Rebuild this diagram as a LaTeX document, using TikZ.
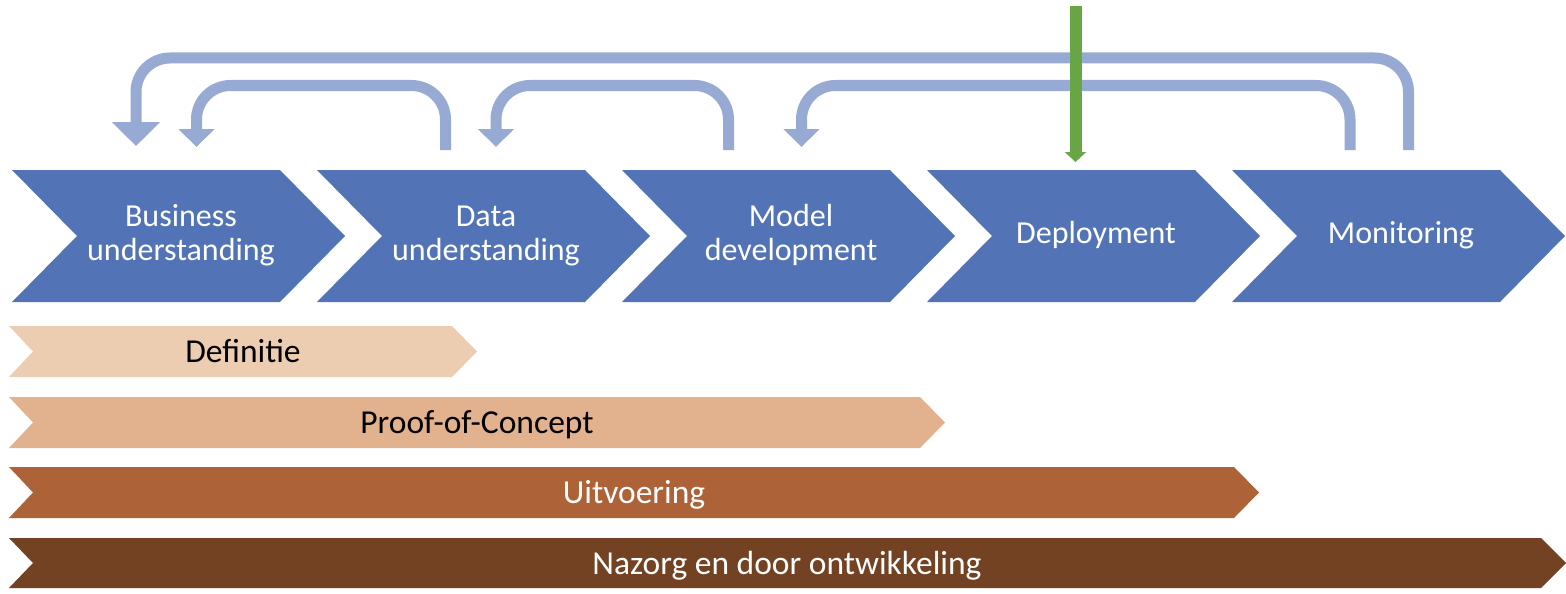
\documentclass[tikz,border=0pt]{standalone}
\usepackage{fontspec}
\setmainfont{Carlito}
\usetikzlibrary{arrows.meta}
\definecolor{chevblue}{HTML}{5274B7}
\definecolor{fbblue}{HTML}{97AAD4}
\definecolor{barA}{HTML}{ECCDB1}
\definecolor{barB}{HTML}{E2B28F}
\definecolor{barC}{HTML}{AD6337}
\definecolor{barD}{HTML}{734223}
\definecolor{greenarr}{HTML}{68A544}
\tikzset{
  chevtext/.style={text=white, align=center, font=\fontsize{32}{34}\selectfont, inner sep=0pt, anchor=base},
  bartext/.style={text=black, font=\fontsize{33.5}{36}\selectfont, inner sep=0pt, anchor=base},
  bartextw/.style={bartext, text=white},
  fbarrow/.style={draw=fbblue, line width=11pt, rounded corners=34pt, -{Triangle[width=35pt,length=18pt]}},
  fbarrowbig/.style={draw=fbblue, line width=11pt, rounded corners=34pt, -{Triangle[width=47pt,length=24pt]}},
  greenarrow/.style={draw=greenarr, line width=12pt, -{Triangle[width=21pt,length=10pt]}}
}
\begin{document}
\begin{tikzpicture}[x=1pt,y=-1pt]
\useasboundingbox (0,0) rectangle (1566,594);
% chevrons
\fill[chevblue] (12,170) -- (280,170) -- (345,236) -- (280,302) -- (12,302) -- (77,236) -- cycle;
\node[chevtext] (bu) at (181,260) {Business\\understanding};
\fill[chevblue] (317,170) -- (585,170) -- (650,236) -- (585,302) -- (317,302) -- (382,236) -- cycle;
\node[chevtext] (du) at (486,260) {Data\\understanding};
\fill[chevblue] (622,170) -- (890,170) -- (955,236) -- (890,302) -- (622,302) -- (687,236) -- cycle;
\node[chevtext] (md) at (791,260.5) {Model\\development};
\fill[chevblue] (927,170) -- (1195,170) -- (1260,236) -- (1195,302) -- (927,302) -- (992,236) -- cycle;
\node[chevtext] (dp) at (1096,243) {Deployment};
\fill[chevblue] (1232,170) -- (1500,170) -- (1565,236) -- (1500,302) -- (1232,302) -- (1297,236) -- cycle;
\node[chevtext] (mo) at (1401,243) {Monitoring};
% bars
\fill[barA] (9,326) -- (452,326) -- (477,351.5) -- (452,377) -- (9,377) -- (33,351.5) -- cycle;
\node[bartext] (def) at (243,362.5) {Definitie};
\fill[barB] (9,397) -- (920,397) -- (945,422.5) -- (920,448) -- (9,448) -- (33,422.5) -- cycle;
\node[bartext] (poc) at (477,433.5) {Proof-of-Concept};
\fill[barC] (9,467) -- (1234,467) -- (1259,492.5) -- (1234,518) -- (9,518) -- (33,492.5) -- cycle;
\node[bartextw] (uit) at (634,503.5) {Uitvoering};
\fill[barD] (9,538) -- (1541,538) -- (1566,563) -- (1541,588) -- (9,588) -- (33,563) -- cycle;
\node[bartextw] (naz) at (787,574) {Nazorg en door ontwikkeling};
% feedback arrows
\coordinate (s1) at (1408.5,150);
\coordinate (t1) at (136,146);
\coordinate (s2) at (445.5,150);
\coordinate (t2) at (196.5,147);
\coordinate (s3) at (728.5,150);
\coordinate (t3) at (496,147);
\coordinate (s4) at (1350,150);
\coordinate (t4) at (801.5,147);
\draw[fbarrowbig] (s1) -- (s1 |- 0,58) -- (t1 |- 0,58) -- (t1);
\draw[fbarrow] (s2) -- (s2 |- 0,85.5) -- (t2 |- 0,85.5) -- (t2);
\draw[fbarrow] (s3) -- (s3 |- 0,85.5) -- (t3 |- 0,85.5) -- (t3);
\draw[fbarrow] (s4) -- (s4 |- 0,85.5) -- (t4 |- 0,85.5) -- (t4);
% green arrow
\coordinate (g0) at (1075.5,6);
\coordinate (g1) at (1075.5,162);
\draw[greenarrow] (g0) -- (g1);
\end{tikzpicture}
\end{document}
